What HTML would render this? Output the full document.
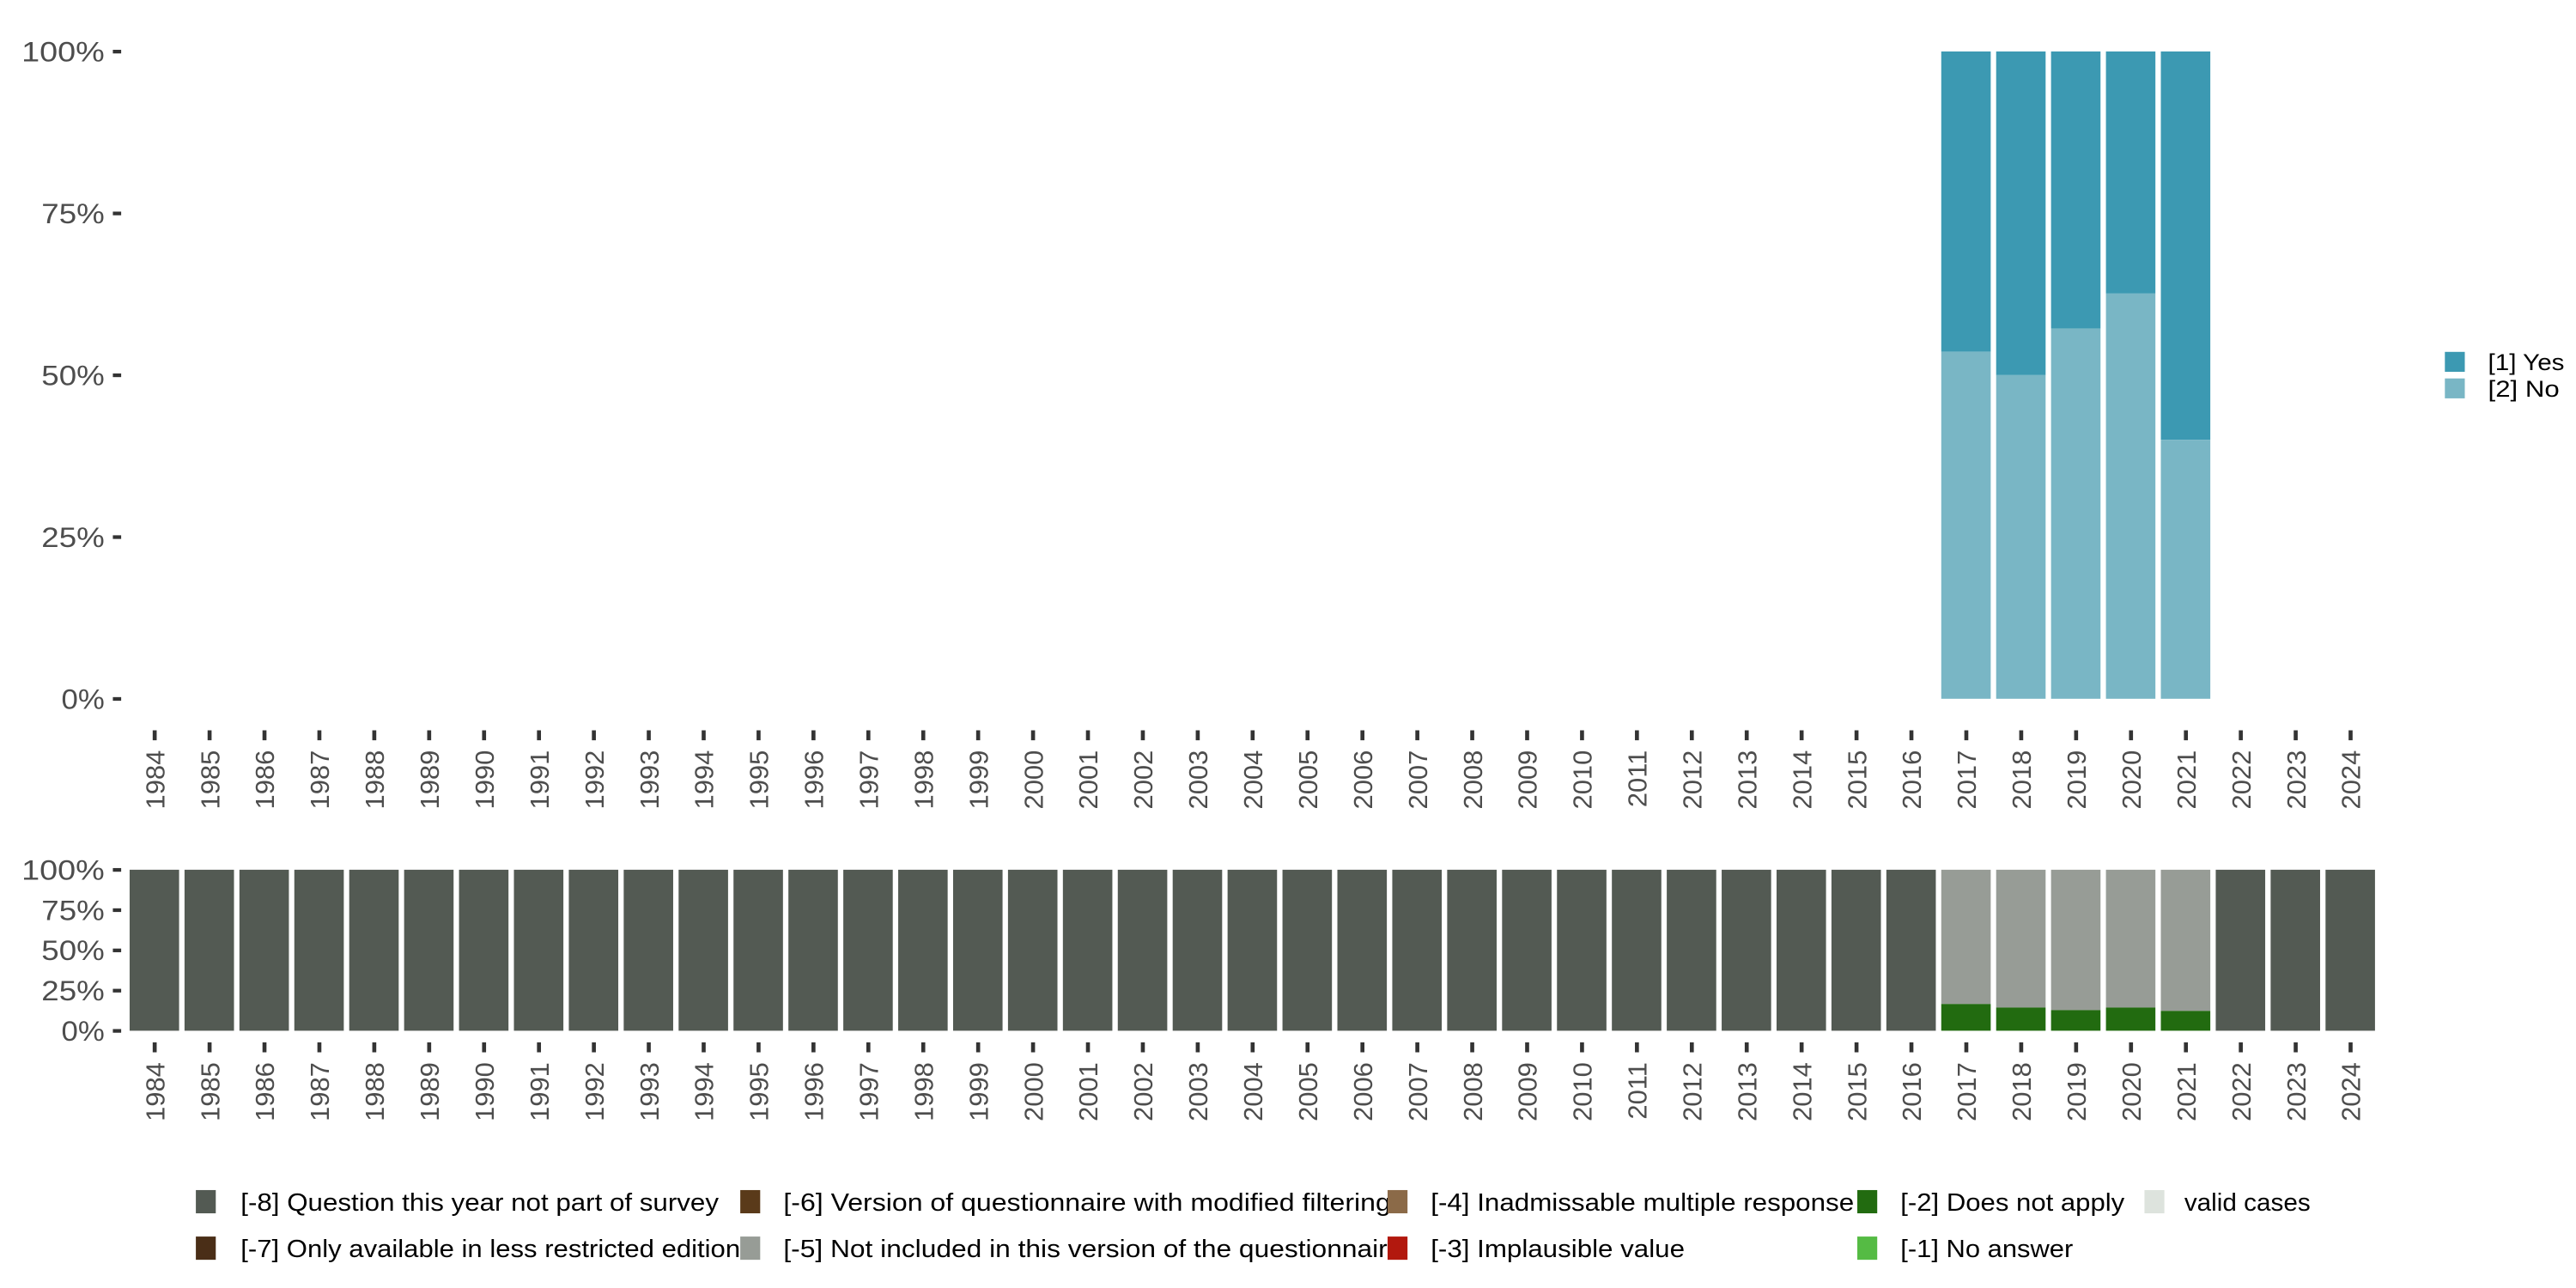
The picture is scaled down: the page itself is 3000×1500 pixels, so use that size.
<!DOCTYPE html>
<html><head><meta charset="utf-8"><style>
html,body{margin:0;padding:0;background:#fff;}
svg{display:block;}
text{font-family:"Liberation Sans",sans-serif;}
</style></head><body>
<svg id="chart" width="3000" height="1500" viewBox="0 0 1552 776" preserveAspectRatio="none" xmlns="http://www.w3.org/2000/svg">
<g id="gtop"></g>
<g id="gbot"></g>
<g id="gleg"></g>
</svg>
<script>
(function(){
var ns="http://www.w3.org/2000/svg";
function el(p,t,a,txt){var e=document.createElementNS(ns,t);for(var k in a)e.setAttribute(k,a[k]);if(txt!=null)e.textContent=txt;p.appendChild(e);return e;}
var gTop=document.getElementById('gtop'),gBot=document.getElementById('gbot'),gLeg=document.getElementById('gleg');
var x0=93,step=33.075,bw=29.8;
var T0=421,T1=31,TH=T0-T1;
var ylw={0:26,25:38,50:38,75:38,100:50};
[0,25,50,75,100].forEach(function(v){var y=T0-TH*v/100;
 el(gTop,'rect',{x:68,y:y-1,width:5,height:2.2,fill:'#333'});
 el(gTop,'text',{x:63-ylw[v],y:y+6,'font-size':17,fill:'#4d4d4d',textLength:ylw[v],lengthAdjust:'spacingAndGlyphs'},v+'%');});
var no={2017:53.6,2018:50,2019:57.2,2020:62.6,2021:40};
for(var i=0;i<41;i++){var yr=1984+i,cx=x0+i*step;
 el(gTop,'rect',{x:cx-1,y:440,width:2.4,height:6,fill:'#333'});
 el(gTop,'text',{transform:'translate('+(cx+6)+',452) rotate(-90)','text-anchor':'end','font-size':16,fill:'#4d4d4d'},String(yr));
 if(no[yr]!=null){var ny=T0-TH*no[yr]/100;
  el(gTop,'rect',{x:cx-bw/2,y:T1,width:bw,height:ny-T1,fill:'#3c99b2'});
  el(gTop,'rect',{x:cx-bw/2,y:ny,width:bw,height:T0-ny,fill:'#79b6c5'});}
}
el(gTop,'rect',{x:1473,y:212,width:12,height:12,fill:'#3c99b2'});
el(gTop,'rect',{x:1473,y:228,width:12,height:12,fill:'#79b6c5'});
el(gTop,'text',{x:1499,y:223,'font-size':14,fill:'#000',textLength:46,lengthAdjust:'spacingAndGlyphs'},'[1] Yes');
el(gTop,'text',{x:1499,y:239,'font-size':14,fill:'#000',textLength:43,lengthAdjust:'spacingAndGlyphs'},'[2] No');
var B0=621,B1=524,BH=B0-B1;
[0,25,50,75,100].forEach(function(v){var y=B0-BH*v/100;
 el(gBot,'rect',{x:68,y:y-1,width:5,height:2.2,fill:'#333'});
 el(gBot,'text',{x:63-ylw[v],y:y+6,'font-size':17,fill:'#4d4d4d',textLength:ylw[v],lengthAdjust:'spacingAndGlyphs'},v+'%');});
var gr={2017:16.6,2018:14.4,2019:12.8,2020:14.4,2021:12.3};
for(var j=0;j<41;j++){var yr2=1984+j,cx2=x0+j*step;
 el(gBot,'rect',{x:cx2-1,y:628,width:2.4,height:6,fill:'#333'});
 el(gBot,'text',{transform:'translate('+(cx2+6)+',640) rotate(-90)','text-anchor':'end','font-size':16,fill:'#4d4d4d'},String(yr2));
 if(gr[yr2]!=null){var gy=B0-BH*gr[yr2]/100;
  el(gBot,'rect',{x:cx2-bw/2,y:B1,width:bw,height:gy-B1,fill:'#979c96'});
  el(gBot,'rect',{x:cx2-bw/2,y:gy,width:bw,height:B0-gy,fill:'#226b10'});}
 else el(gBot,'rect',{x:cx2-bw/2,y:B1,width:bw,height:BH,fill:'#535a53'});
}
var items=[
[118,724,'#535a53','[-8] Question this year not part of survey',145,288],
[118,752,'#4a2e17','[-7] Only available in less restricted edition',145,301],
[446,724,'#5a3a1a','[-6] Version of questionnaire with modified filtering',472,366],
[446,752,'#979c96','[-5] Not included in this version of the questionnaire',472,373],
[836,724,'#8b6a48','[-4] Inadmissable multiple response',862,255],
[836,752,'#b2180e','[-3] Implausible value',862,153],
[1119,724,'#226b10','[-2] Does not apply',1145,135],
[1119,752,'#55bb44','[-1] No answer',1145,104],
[1292,724,'#dde3dd','valid cases',1316,76]];
items.forEach(function(it){
 el(gLeg,'rect',{x:it[0],y:it[1]-7,width:12,height:14,fill:it[2]});
 el(gLeg,'text',{x:it[4],y:it[1]+5.5,'font-size':15,fill:'#000',textLength:it[5],lengthAdjust:'spacingAndGlyphs'},it[3]);});
})();
</script>
</body></html>
